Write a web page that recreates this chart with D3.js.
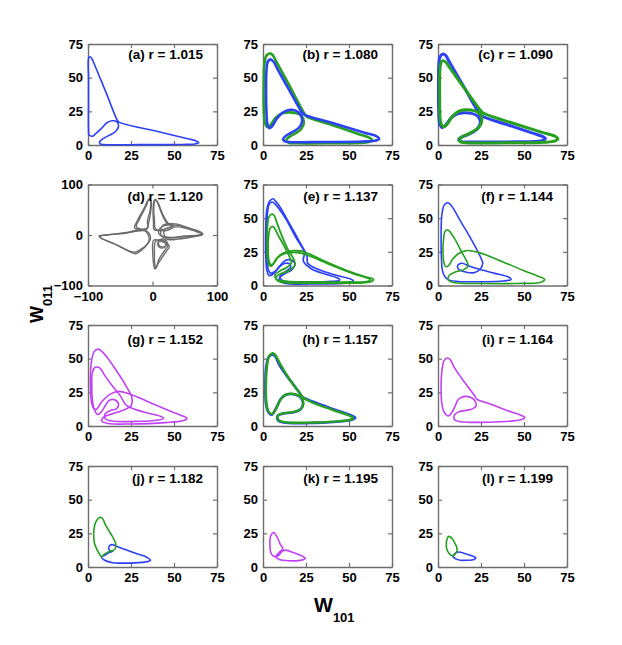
<!DOCTYPE html>
<html><head><meta charset="utf-8">
<script src="https://cdn.jsdelivr.net/npm/d3@7"></script>
<style>body{margin:0;background:#fff}</style>
</head><body>
<svg id="c" width="622" height="645"></svg>
<script>
// ---------- data ----------
const panelIds = ["a","b","c","d","e","f","g","h","i","j","k","l"];
const panelTitles = ["(a) r = 1.015","(b) r = 1.080","(c) r = 1.090","(d) r = 1.120","(e) r = 1.137","(f) r = 1.144",
  "(g) r = 1.152","(h) r = 1.157","(i) r = 1.164","(j) r = 1.182","(k) r = 1.195","(l) r = 1.199"];
const ticksW = [0,25,50,75];
const ticksD = [-100,0,100];
const xLabelMain = "W", xLabelSub = "101";
const yLabelMain = "W", yLabelSub = "011";

const aBlue = [[0.4,64.5],[0.3,50],[0.3,30],[0.3,12],[0.6,7.5],[2.5,6.5],[5,9],[8,12.5],[11,16.5],[14,18],[16.5,17.5],[17.8,14],[16,10],[12,7],[8.5,4.5],[6.8,2.5],[7,0.8],[9,0.3],[30,0.3],[55,0.4],[62,0.8],[64.5,1.7],[63,3],[58,4.6],[40,10.2],[18,17],[17,18.5],[10.8,38],[4,59],[2.5,63.5],[1.3,65.5]];

const bBlue = [[6,62],[4.3,63.6],[2.8,62],[2,55],[1.8,40],[2,25],[2.5,16],[3.5,12.6],[5,13.5],[8,19.5],[11.5,24],[15,26],[19,25.5],[21.8,22.5],[22.8,18],[21,13],[17,9.5],[13.5,7],[11.7,4.5],[12.5,2.8],[15,2.2],[35,2.2],[58,2.6],[65,3.2],[67.5,4.5],[66,6.5],[60,8.8],[40,16.5],[24,22.5],[22.5,24.5],[14.7,42],[8.6,56]];
const bGreen = [[5.5,67],[3.9,68],[2,66.5],[0.8,60],[0.4,45],[0.5,25],[1.2,16],[2.3,13.6],[4,14.5],[7.5,20.5],[11,23.5],[15,24.2],[19.5,23.5],[22.5,21.5],[23.8,17],[22,11.5],[18,8],[15,5.8],[13.5,3.3],[15,1.7],[20,1.3],[40,1.3],[56,1.5],[61.5,2.3],[63.5,3.7],[62,5.3],[55,8.4],[40,14.9],[25.5,21],[24,23.5],[15,45],[7.5,62.5]];

const cBlue = [[4.5,66.5],[2.9,67.6],[1.2,65.5],[0.4,58],[0.3,45],[0.4,25],[1,16],[2.4,13],[4,14],[7.5,20],[11,23],[15,24],[19.5,23.5],[23,21.5],[24.6,16.5],[22.5,11.5],[18,8],[14,6],[12,4],[13.5,2.5],[17,2.2],[40,2.3],[56,2.6],[61,3.5],[62.5,4.8],[61,6.2],[55,8.8],[40,15.2],[25.5,21.5],[24,23.5],[14.7,44],[6.5,62]];
const cGreen = [[4.5,61.5],[2.6,62.6],[1.5,60],[1,52],[1,35],[1.2,20],[2,15],[3.2,13.6],[5,15],[8.5,21.5],[12,25],[15.7,26.2],[21,25.5],[24,23.5],[25.5,19],[24,13.5],[20,9.8],[16,7.3],[13,5],[12.5,2.8],[15,1.8],[40,1.6],[62,2],[68,3],[69.7,4.5],[68,6.5],[60,9.6],[40,17.6],[26,24],[24.5,26],[13.2,46],[6.8,57.5]];

const dLeft1 = [[-5,-8],[-13,10],[-40,5],[-70,0],[-83,-2],[-80,-6],[-55,-20],[-26,-37],[-18,-31],[-8,-18]];
const dLeft2 = [[-3,-5],[-10,8],[-45,3],[-78,-1],[-82,-4],[-60,-17],[-28,-34],[-20,-30],[-6,-15]];
const dTopL1 = [[-12,12],[-28,14],[-24,27],[-13,53],[-6,70],[-3,68],[-4,47],[-8,27],[-7,15]];
const dTopL2 = [[-10,10],[-25,17],[-20,32],[-10,57],[-5,72],[-2,66],[-3,44],[-6,24]];
const dTopR1 = [[3,10],[1.5,27],[1,53],[3,69],[6,68],[15,40],[22,24],[30,19],[20,12]];
const dTopR2 = [[5,12],[3,30],[2,55],[4.5,71],[8,65],[17,38],[25,22],[33,17],[22,9]];
const dRight1 = [[12,14],[30,20],[55,14],[76,5],[78,2],[70,-1],[45,-4],[20,-4],[10,2]];
const dRight2 = [[15,18],[35,22],[60,12],[77,3],[73,0],[50,-2],[25,-6],[14,-2]];
const dRight3 = [[18,10],[40,16],[65,8],[78,1],[65,-3],[40,-8],[22,-8]];
const dBottom1 = [[2,-10],[0.5,-40],[2,-60],[3.5,-67],[6,-64],[10,-48],[17.5,-33],[24,-20],[12,-12]];
const dBottom2 = [[5,-12],[3,-38],[4,-62],[5,-66],[8,-58],[20,-35],[26,-22],[14,-10]];
const dSmall1 = [[10,-12],[15,-8],[22,-12],[22,-20],[16,-24],[10,-20]];
const dSmall2 = [[8,-16],[13,-10],[20,-14],[20,-22],[14,-26],[9,-22]];

const eBlue1 = [[7,63],[5.9,64.4],[3.8,62.5],[2.2,56],[1.6,40],[1.7,20],[2.3,11],[3.5,7.5],[6,8.5],[9.5,14],[13,18.5],[16,19],[18.5,16.5],[17,12],[13,9],[10,6.5],[9.5,3.5],[13,1.6],[30,1.2],[46,1.5],[51,2.3],[52.5,3.6],[50.5,5],[42,7.8],[32,12],[26,16.5],[25.5,22],[21,33],[14,49],[9.5,59]];
const eBlue2 = [[7,60.5],[5.3,62],[3.5,60],[2.6,54],[2.2,40],[2.3,22],[3,12],[4.5,9],[7,10.5],[10,14.5],[13,16.5],[15.5,16],[16,13.5],[14,11],[11,8.5],[10,5.5],[12,3.3],[25,2.6],[40,3],[44,3.6],[44.6,4.5],[43,5.8],[36,8.5],[28,12.5],[23.5,18],[24,24.5],[19,36],[13,50],[9,57.5]];
const eGreen1 = [[6.5,52],[5.3,53],[3.5,51],[2.6,44],[2.4,30],[2.7,20],[3.6,15],[5,14.5],[7.5,19.5],[11,23.5],[15,25.5],[20,25.8],[25,24.5],[35,18.5],[50,10.5],[60,6.3],[64.2,4.7],[63,3],[58,2],[35,1.8],[15,2],[8.5,3.5],[7.5,6],[10,8.5],[15,11],[18.5,15],[18,19],[14,28],[10,40],[8,47]];
const eGreen2 = [[6.5,43],[5.3,43.9],[4,42],[3.2,36],[3,25],[3.5,18],[4.5,15.5],[6,16],[8.5,20.5],[12,23.5],[16,24.5],[21,24.3],[26,22.5],[38,16],[52,9],[60,5.8],[62.5,4.5],[61,3],[50,2.6],[30,2.7],[14,3],[8,4.5],[7,7.5],[10,11],[14,13.5],[16.5,17],[15.5,21],[12,30],[8.5,38]];

const fBlue = [[7,60.5],[5.3,61.4],[3.5,59.5],[2.2,52],[1.8,35],[2,20],[2.6,11],[4,6.5],[6.5,4],[12,3],[25,2.8],[38,3.3],[42.5,4.5],[41,6.3],[33,9],[24,12],[18,14.5],[14,16.5],[11.5,15],[12,12],[16,10],[21,9.5],[24.5,12],[26,16.5],[24,23],[19,35],[13,48],[9.5,56]];
const fGreen = [[6.5,40.5],[5.3,41.4],[4,40],[3.2,34],[2.9,25],[3.3,18],[4.5,14],[6,14.5],[8.5,19.5],[12,23.8],[17,26],[23,24.8],[35,19],[50,11],[59,6.5],[62,4.5],[60,2.5],[45,1.5],[25,1.5],[10,2],[6,4],[6.5,7.5],[10,10],[15,11.8],[17.5,14.5],[16.5,18.5],[14,24.3],[10,34],[8,38]];

const gPurple1 = [[7.5,56],[5.7,57.1],[3.5,55],[1.8,46],[1.4,30],[2,18],[3.3,13],[5,12.5],[8,18],[12.7,23.5],[17.8,25.7],[23.8,24],[35,18],[48,11],[55,7.5],[57.5,5.8],[55.5,4],[45,2.5],[25,1.5],[12,1.8],[8,3.5],[9,6.5],[14,9],[20,11.5],[25,15],[25.5,21],[22,30],[15,44],[10.5,52]];
const gPurple2 = [[7,43],[4.2,43.6],[2.6,40],[2.2,30],[2.5,20],[3.5,13],[5.5,8.5],[8,11],[10.7,16.5],[12.7,19.3],[15.8,19.3],[17.8,16],[16.5,12.8],[13,11.5],[10,9],[10,5.5],[14,3.7],[30,3.5],[40,4.3],[44,5.5],[42.5,7],[35,9.5],[26,13],[21.8,16],[19,22],[14,30],[9.5,38]];

const hBlue = [[7,52],[5.2,52.9],[3.3,51],[1.8,43],[1.4,30],[1.7,17],[3,10.5],[5,8.3],[7.5,13],[10.3,20],[13,23],[16,23.8],[19.5,23],[22,21],[23.3,16.5],[21.5,12],[17,10],[12,9.3],[8.5,7.5],[8.8,4.2],[12,2.6],[30,2.3],[46,3.5],[52,4.8],[53.7,6.1],[51,8],[40,12.9],[30,17.6],[23,21.5],[21,25],[16.3,33],[9.6,45]];
const hGreen = [[7,53],[5.6,54],[3.6,52],[2.3,44],[1.7,30],[2,17],[3.2,10.8],[5.3,8.8],[7.8,13.3],[10.5,20.2],[13.3,23.3],[16.3,24],[19.7,23.2],[22.2,21.2],[23.5,16.8],[21.7,12.3],[17.2,10.3],[12.2,9.6],[8.7,7.8],[9,4.5],[12.2,2.9],[30,2.6],[45,3.6],[51,4.8],[52.5,6],[50,7.8],[40,12.2],[30,16.7],[23.2,21.2],[21.2,24.8],[16.2,33.2],[10.2,45.5]];

const iPurple = [[7,49.5],[5.5,50.5],[3.5,48.5],[2.2,40],[1.8,28],[2.2,17],[3.5,10.5],[6,7.5],[8.5,11],[10,15],[11.7,19.5],[14,21.5],[16.5,22],[19.5,21],[21.5,18.5],[22.2,15],[20,12.7],[16,11.5],[12,10.5],[9.5,8],[9.8,4.5],[13,3.2],[30,2.8],[44,3.8],[49,5],[50.5,6.2],[48.5,7.8],[40,11.5],[30,16.6],[22.5,20],[21,23],[16.3,31],[9.7,43]];

const jGreen = [[8.5,36],[6.8,36.8],[5,34.5],[3.9,31],[3.3,25],[3.7,18],[5,13.5],[6.5,10],[7.8,7.6],[9.5,9.5],[11.5,11],[14,12],[15.8,13.5],[16.2,16.5],[15.2,20.3],[12.6,26],[9.8,32.2]];
const jBlue = [[7.8,7.6],[9.7,5],[14.5,3.2],[24,2.9],[33,3.6],[36.3,5],[34.5,7],[28,10],[22,12.8],[16.5,15.4],[13.8,16.6],[12.2,15],[12.6,12.2],[14.5,11.8],[12,10.5],[9.5,8.6]];

const kPurple = [[11.5,13.5],[10,17],[8.3,22],[6.1,25.6],[4.5,23],[4,16],[4.8,10],[6.5,7.8],[9,8.5],[11,11.5],[13,12.5],[18,10.5],[23.5,7.6],[24.7,6.5],[23,5.3],[15,4.6],[9.5,5.5],[7.5,7.5],[9.5,11]];

const lGreen = [[7,22.5],[6.1,22.7],[5.2,20.5],[4.8,17],[5.2,13],[6.5,10],[8.3,8.3],[9.9,9.5],[11,12],[11,14.5],[9.8,17.5],[8.6,20.5]];
const lBlue = [[9.5,9.5],[11,11],[13,11],[17.5,9.2],[21,7.6],[22,6.8],[21,5.6],[17,5],[13,5],[10.3,6],[8.8,7.8]];

// ---------- styles / layout ----------
const BLUE = "#2d42f5", GREEN = "#26a01f", PURPLE = "#c142f2", GRAY = "#6b6b6b";
const FRAME = "#6e6e6e";
const FONT = "'Liberation Sans', Arial, Helvetica, sans-serif";
const colX = [88, 263, 438];
const rowY = [44, 184.5, 325, 466];
const PW = 129, PH = 101;
const titleBase = [14.5, 16.5, 18.5, 16.5];

const curvesByPanel = {
  a: [[aBlue, BLUE, 1.6]],
  b: [[bGreen, GREEN, 2.6],[bBlue, BLUE, 2.6]],
  c: [[cBlue, BLUE, 3],[cGreen, GREEN, 3]],
  d: [dLeft1,dLeft2,dTopL1,dTopL2,dTopR1,dTopR2,dRight1,dRight2,dRight3,dBottom1,dBottom2,dSmall1,dSmall2].map(p=>[p, GRAY, 1.4]),
  e: [[eBlue1, BLUE, 1.7],[eBlue2, BLUE, 1.7],[eGreen1, GREEN, 1.8],[eGreen2, GREEN, 1.8]],
  f: [[fBlue, BLUE, 1.6],[fGreen, GREEN, 1.6]],
  g: [[gPurple1, PURPLE, 1.6],[gPurple2, PURPLE, 1.6]],
  h: [[hBlue, BLUE, 2.6],[hGreen, GREEN, 2.4]],
  i: [[iPurple, PURPLE, 1.6]],
  j: [[jBlue, BLUE, 1.6],[jGreen, GREEN, 1.6]],
  k: [[kPurple, PURPLE, 1.6]],
  l: [[lBlue, BLUE, 1.6],[lGreen, GREEN, 1.6]]
};

const svg = d3.select("#c");
svg.append("rect").attr("width",622).attr("height",645).attr("fill","#fff");
const fmt = d => d < 0 ? "\u2212" + Math.abs(d) : String(d);

panelIds.forEach((id, idx) => {
  const r = Math.floor(idx/3), c = idx % 3;
  const isD = id === "d";
  const ticks = isD ? ticksD : ticksW;
  const dom = isD ? [-100,100] : [0,75];
  const x = d3.scaleLinear().domain(dom).range([0, PW]);
  const y = d3.scaleLinear().domain(dom).range([PH, 0]);
  const g = svg.append("g").attr("transform", `translate(${colX[c]},${rowY[r]})`);

  g.append("clipPath").attr("id","clip"+id).append("rect")
    .attr("x",-1.5).attr("y",-1.5).attr("width",PW+3).attr("height",PH+3);

  const ax = [
    g.append("g").attr("transform",`translate(0,${PH})`)
      .call(d3.axisBottom(x).tickValues(ticks).tickSize(-4).tickSizeOuter(0).tickPadding(6).tickFormat(fmt)),
    g.append("g")
      .call(d3.axisLeft(y).tickValues(ticks).tickSize(-4).tickSizeOuter(0).tickPadding(5).tickFormat(fmt)),
    g.append("g")
      .call(d3.axisTop(x).tickValues(ticks).tickSize(-4).tickSizeOuter(0).tickFormat("")),
    g.append("g").attr("transform",`translate(${PW},0)`)
      .call(d3.axisRight(y).tickValues(ticks).tickSize(-4).tickSizeOuter(0).tickFormat(""))
  ];
  ax.forEach(a => {
    a.select(".domain").attr("stroke", FRAME).attr("stroke-width", 1.4);
    a.selectAll(".tick line").attr("stroke", FRAME).attr("stroke-width", 1.2);
    a.selectAll(".tick text").attr("fill","#000").attr("font-family",FONT)
      .attr("font-weight","bold").attr("font-size","13px");
  });

  const line = d3.line().x(p => x(p[0])).y(p => y(p[1])).curve(d3.curveCatmullRomClosed.alpha(0.5));
  const cg = g.append("g").attr("clip-path", `url(#clip${id})`);
  curvesByPanel[id].forEach(([pts, col, w]) => {
    cg.append("path").attr("d", line(pts)).attr("fill","none")
      .attr("stroke", col).attr("stroke-width", w).attr("stroke-linejoin","round");
  });

  g.append("text").attr("x", PW - 14).attr("y", titleBase[r])
    .attr("text-anchor","end").attr("font-family",FONT).attr("font-weight","bold")
    .attr("font-size","13.5px").attr("fill","#000").text(panelTitles[idx]);
});

// axis labels
const xl = svg.append("text").attr("x", 314).attr("y", 612)
  .attr("font-family",FONT).attr("font-weight","bold").attr("fill","#000");
xl.append("tspan").attr("font-size","20px").text(xLabelMain);
xl.append("tspan").attr("font-size","13px").attr("dy", 10).text(xLabelSub);

const yl = svg.append("text").attr("transform","translate(43,323) rotate(-90)")
  .attr("font-family",FONT).attr("font-weight","bold").attr("fill","#000");
yl.append("tspan").attr("font-size","18px").text(yLabelMain);
yl.append("tspan").attr("font-size","13px").attr("dy", 9).text(yLabelSub);
</script>
</body></html>
